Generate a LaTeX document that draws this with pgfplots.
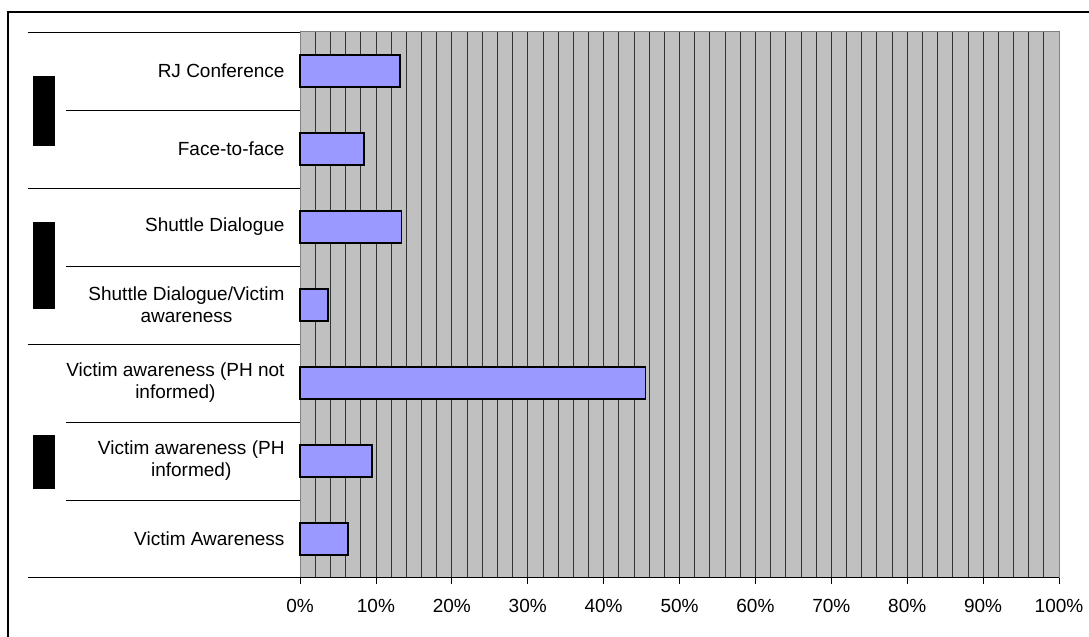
\documentclass[border=0pt]{standalone}
\usepackage{fontspec}
\setmainfont{Liberation Sans}
\usepackage{pgfplots}
\pgfplotsset{compat=1.18}
\definecolor{plotgray}{HTML}{C0C0C0}
\definecolor{barblue}{HTML}{9999FF}
\newcommand{\lblfont}{\fontsize{19bp}{22bp}\selectfont}
\begin{document}
\begin{tikzpicture}
\begin{axis}[
  scale only axis, width=759bp, height=546bp,
  xmin=0, xmax=100, ymin=0, ymax=7,
  clip=false,
  axis background/.style={fill=plotgray},
  axis line style={draw=gray, line width=1bp},
  xtick={0,10,...,100},
  minor xtick={2,4,...,98},
  xticklabels={0\%,10\%,20\%,30\%,40\%,50\%,60\%,70\%,80\%,90\%,100\%},
  xmajorgrids, xminorgrids,
  major grid style={black!80, line width=0.8bp},
  minor grid style={black!80, line width=0.8bp},
  minor tick length=0pt,
  major tick length=6bp,
  tick align=outside,
  xtick pos=bottom,
  xtick style={black, line width=0.8bp},
  xticklabel style={font=\lblfont, yshift=-12bp},
  ytick={0.5,1.5,...,6.5},
  yticklabels={Victim Awareness,
    {Victim awareness (PH\\informed)},
    {Victim awareness (PH not\\informed)},
    {Shuttle Dialogue/Victim\\awareness},
    Shuttle Dialogue,
    Face-to-face,
    RJ Conference},
  ytick style={draw=none},
  yticklabel style={align=center, font=\lblfont, anchor=east, xshift=-6bp},
  xbar, bar width=32bp,
]
\addplot[fill=barblue, draw=black, line width=1.5bp] coordinates {
  (6.3,0.5) (9.5,1.5) (45.5,2.5) (3.7,3.5) (13.4,4.5) (8.4,5.5) (13.2,6.5)
};
% category separator lines
\draw[black, line width=0.8bp] (axis cs:-35.84,7) -- (axis cs:0,7);
\draw[black, line width=0.8bp] (axis cs:-35.84,5) -- (axis cs:0,5);
\draw[black, line width=0.8bp] (axis cs:-35.84,3) -- (axis cs:0,3);
\draw[black, line width=0.8bp] (axis cs:-30.83,6) -- (axis cs:0,6);
\draw[black, line width=0.8bp] (axis cs:-30.83,4) -- (axis cs:0,4);
\draw[black, line width=0.8bp] (axis cs:-30.83,2) -- (axis cs:0,2);
\draw[black, line width=0.8bp] (axis cs:-30.83,1) -- (axis cs:0,1);
\draw[black, line width=1bp] (axis cs:-35.84,0) -- (axis cs:100,0);
% black blocks
\fill[black] (axis cs:-35.18,5.538) rectangle (axis cs:-32.28,6.436);
\fill[black] (axis cs:-35.18,3.449) rectangle (axis cs:-32.28,4.564);
\fill[black] (axis cs:-35.18,1.141) rectangle (axis cs:-32.28,1.833);
% outer frame
\draw[black, line width=1.5bp] (axis cs:-38.47,-1.2) rectangle (axis cs:106,7.256);
\coordinate (bbl) at (axis cs:-39.53,-0.756);
\coordinate (btr) at (axis cs:103.95,7.41);
\end{axis}
\pgfresetboundingbox
\path[use as bounding box] (bbl) rectangle (btr);
\end{tikzpicture}
\end{document}
